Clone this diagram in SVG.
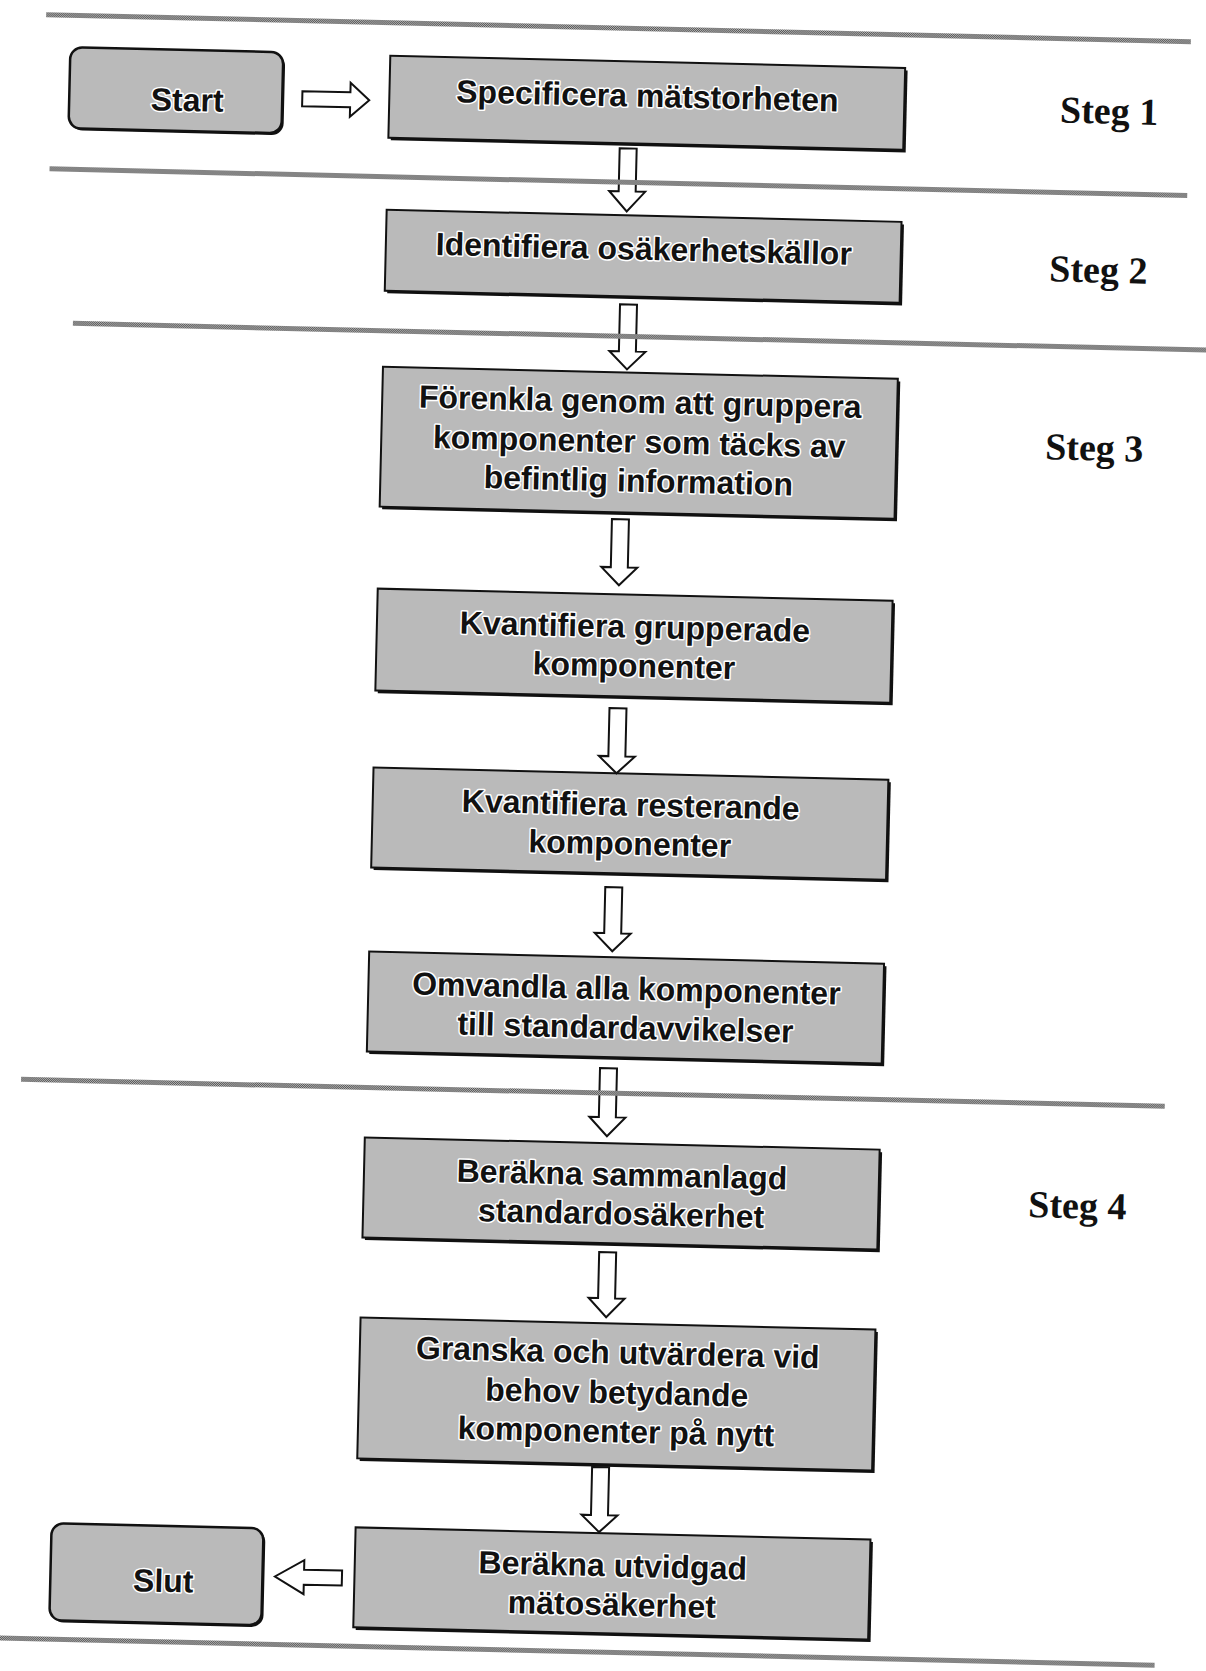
<svg xmlns="http://www.w3.org/2000/svg" width="1206" height="1671" viewBox="0 0 1206 1671">
  <style>
    .box { fill: #bababa; stroke: #111; stroke-width: 2; }
    .shadow { fill: #111; }
    .term { fill: #bababa; stroke: #111; stroke-width: 2.5; }
    .t { font-family: "Liberation Sans", Arial, sans-serif; font-weight: bold; font-size: 32px; fill: #111; stroke: #fff; stroke-width: 3px; paint-order: stroke; stroke-linejoin: round; text-anchor: middle; }
    .steg { font-family: "Liberation Serif", "Times New Roman", serif; font-weight: bold; font-size: 38px; fill: #111; text-anchor: middle; }
    .sep { fill: url(#halftone); }
    .arrow { fill: #fff; stroke: #111; stroke-width: 2; stroke-linejoin: miter; }
  </style>
  <defs>
    <!-- checkered halftone used for the stage separator bands -->
    <pattern id="halftone" width="2" height="2" patternUnits="userSpaceOnUse">
      <rect width="2" height="2" fill="#b4b4b4"/>
      <rect width="1" height="1" fill="#555"/>
      <rect x="1" y="1" width="1" height="1" fill="#555"/>
    </pattern>
  </defs>
  <rect width="1206" height="1671" fill="#fff"/>
  <g transform="rotate(1.35 603 835)">
    <!-- process boxes -->
    <g id="start">
      <rect class="shadow" x="54" y="62" width="213" height="81" rx="12"/>
      <rect class="term" x="52" y="60" width="213" height="81" rx="12"/>
      <text class="t" x="170" y="121">Start</text>
    </g>
    <g id="specificera">
      <rect class="shadow" x="374.5" y="63.5" width="515" height="82"/>
      <rect class="box" x="372" y="61" width="515" height="82"/>
      <text class="t" x="630" y="106">Specificera mätstorheten</text>
    </g>
    <g id="identifiera">
      <rect class="shadow" x="374.5" y="217.5" width="515" height="81"/>
      <rect class="box" x="372" y="215" width="515" height="81"/>
      <text class="t" x="630" y="259">Identifiera osäkerhetskällor</text>
    </g>
    <g id="forenkla">
      <rect class="shadow" x="374.5" y="374.5" width="515" height="140"/>
      <rect class="box" x="372" y="372" width="515" height="140"/>
      <text class="t" x="630" y="412">Förenkla genom att gruppera</text>
      <text class="t" x="630" y="452">komponenter som täcks av</text>
      <text class="t" x="630" y="491">befintlig information</text>
    </g>
    <g id="kvantifiera-grupperade">
      <rect class="shadow" x="374.5" y="596.5" width="515" height="102"/>
      <rect class="box" x="372" y="594" width="515" height="102"/>
      <text class="t" x="630" y="637">Kvantifiera grupperade</text>
      <text class="t" x="630" y="676">komponenter</text>
    </g>
    <g id="kvantifiera-resterande">
      <rect class="shadow" x="374.5" y="775.5" width="515" height="100"/>
      <rect class="box" x="372" y="773" width="515" height="100"/>
      <text class="t" x="630" y="815">Kvantifiera resterande</text>
      <text class="t" x="630" y="854">komponenter</text>
    </g>
    <g id="omvandla">
      <rect class="shadow" x="374.5" y="959.5" width="515" height="100"/>
      <rect class="box" x="372" y="957" width="515" height="100"/>
      <text class="t" x="630" y="999">Omvandla alla komponenter</text>
      <text class="t" x="630" y="1038">till standardavvikelser</text>
    </g>
    <g id="berakna-sammanlagd">
      <rect class="shadow" x="374.5" y="1145.5" width="515" height="100"/>
      <rect class="box" x="372" y="1143" width="515" height="100"/>
      <text class="t" x="630" y="1185">Beräkna sammanlagd</text>
      <text class="t" x="630" y="1224">standardosäkerhet</text>
    </g>
    <g id="granska">
      <rect class="shadow" x="374.5" y="1325.5" width="515" height="141"/>
      <rect class="box" x="372" y="1323" width="515" height="141"/>
      <text class="t" x="630" y="1363">Granska och utvärdera vid</text>
      <text class="t" x="630" y="1403">behov betydande</text>
      <text class="t" x="630" y="1442">komponenter på nytt</text>
    </g>
    <g id="berakna-utvidgad">
      <rect class="shadow" x="374.5" y="1535.5" width="515" height="100"/>
      <rect class="box" x="372" y="1533" width="515" height="100"/>
      <text class="t" x="630" y="1576">Beräkna utvidgad</text>
      <text class="t" x="630" y="1615">mätosäkerhet</text>
    </g>
    <g id="slut">
      <rect class="shadow" x="70" y="1538" width="212" height="97" rx="12"/>
      <rect class="term" x="68" y="1536" width="212" height="97" rx="12"/>
      <text class="t" x="181" y="1602">Slut</text>
    </g>

    <!-- hollow block arrows -->
    <g id="connectors">
      <path class="arrow" d="M285 98.5 H333 V89 L352 106 L333 123 V113.5 H285 Z"/>
      <path class="arrow" d="M603.5 148 H620.5 V191 H630 L612 211 L594 191 H603.5 Z"/>
      <path class="arrow" d="M607.5 304 H624.5 V351 H634 L616 369 L598 351 H607.5 Z"/>
      <path class="arrow" d="M604.5 519 H621.5 V567 H631 L613 585 L595 567 H604.5 Z"/>
      <path class="arrow" d="M606.5 708 H623.5 V756 H633 L615 773 L597 756 H606.5 Z"/>
      <path class="arrow" d="M606.5 887 H623.5 V933 H633 L615 951 L597 933 H606.5 Z"/>
      <path class="arrow" d="M605.5 1068 H622.5 V1117 H632 L614 1136 L596 1117 H605.5 Z"/>
      <path class="arrow" d="M609 1252 H626 V1298 H635.5 L617.5 1317 L599.5 1298 H609 Z"/>
      <path class="arrow" d="M607 1467 H624 V1515 H633.5 L615.5 1532 L597.5 1515 H607 Z"/>
      <path class="arrow" d="M359.5 1576.5 H321.5 V1567 L292.5 1584 L321.5 1601 V1591.5 H359.5 Z"/>
    </g>

    <!-- stage separators -->
    <g id="separators">
      <rect class="sep" x="27" y="25.5" width="1145" height="5"/>
      <rect class="sep" x="34" y="179.5" width="1138" height="5"/>
      <rect class="sep" x="61" y="333.5" width="1170" height="5"/>
      <rect class="sep" x="27" y="1090.5" width="1144" height="5"/>
      <rect class="sep" x="-20" y="1649.5" width="1194" height="5"/>
    </g>

    <!-- stage labels -->
    <g id="stages">
      <text class="steg" x="1092" y="112">Steg 1</text>
      <text class="steg" x="1085" y="271">Steg 2</text>
      <text class="steg" x="1085" y="449">Steg 3</text>
      <text class="steg" x="1086" y="1207">Steg 4</text>
    </g>
  </g>
</svg>
